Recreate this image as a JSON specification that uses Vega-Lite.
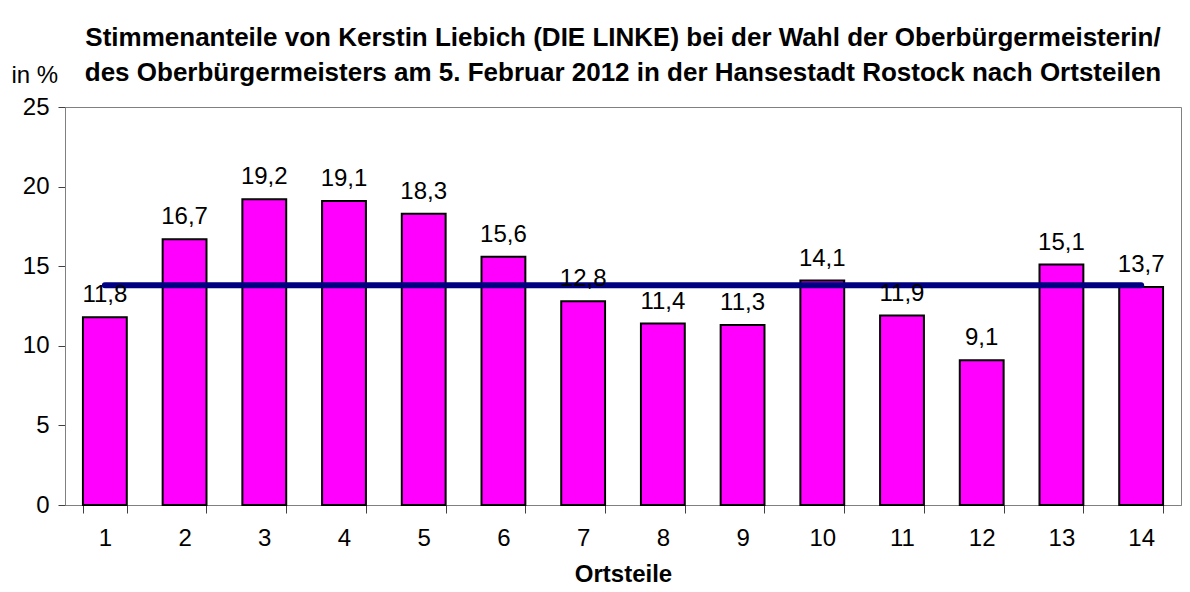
{
  "$schema": "https://vega.github.io/schema/vega-lite/v6.json",
  "width": 1116,
  "height": 398,
  "autosize": {"type": "none"},
  "padding": {"left": 65, "top": 107, "right": 9, "bottom": 87},
  "background": "white",
  "config": {
    "font": "Liberation Sans",
    "view": {"stroke": "#808080", "strokeWidth": 1},
    "locale": {"number": {"decimal": ",", "thousands": ".", "grouping": [3], "currency": ["", " €"]}},
    "axis": {"grid": false, "domainColor": "#808080", "tickColor": "#404040", "labelColor": "black", "titleColor": "black", "labelFont": "Liberation Sans", "titleFont": "Liberation Sans"}
  },
  "title": {
    "text": ["Stimmenanteile von Kerstin Liebich (DIE LINKE)  bei der Wahl der Oberbürgermeisterin/", "des Oberbürgermeisters am 5. Februar 2012 in der Hansestadt Rostock nach Ortsteilen"],
    "fontSize": 26,
    "fontWeight": "bold",
    "color": "black",
    "font": "Liberation Sans",
    "anchor": "middle",
    "frame": "group",
    "lineHeight": 35,
    "offset": -23
  },
  "data": {
    "values": [
      {"Ortsteil": "1", "Anteil": 11.8, "Durchschnitt": 13.8},
      {"Ortsteil": "2", "Anteil": 16.7, "Durchschnitt": 13.8},
      {"Ortsteil": "3", "Anteil": 19.2, "Durchschnitt": 13.8},
      {"Ortsteil": "4", "Anteil": 19.1, "Durchschnitt": 13.8},
      {"Ortsteil": "5", "Anteil": 18.3, "Durchschnitt": 13.8},
      {"Ortsteil": "6", "Anteil": 15.6, "Durchschnitt": 13.8},
      {"Ortsteil": "7", "Anteil": 12.8, "Durchschnitt": 13.8},
      {"Ortsteil": "8", "Anteil": 11.4, "Durchschnitt": 13.8},
      {"Ortsteil": "9", "Anteil": 11.3, "Durchschnitt": 13.8},
      {"Ortsteil": "10", "Anteil": 14.1, "Durchschnitt": 13.8},
      {"Ortsteil": "11", "Anteil": 11.9, "Durchschnitt": 13.8},
      {"Ortsteil": "12", "Anteil": 9.1, "Durchschnitt": 13.8},
      {"Ortsteil": "13", "Anteil": 15.1, "Durchschnitt": 13.8},
      {"Ortsteil": "14", "Anteil": 13.7, "Durchschnitt": 13.8}
    ]
  },
  "encoding": {
    "x": {
      "field": "Ortsteil",
      "type": "ordinal",
      "sort": null,
      "scale": {"paddingInner": 0.45, "paddingOuter": 0.225},
      "axis": {
        "title": "Ortsteile",
        "titleFontSize": 24,
        "titleFontWeight": "bold",
        "titlePadding": 12,
        "labelAngle": 0,
        "labelFontSize": 24,
        "labelPadding": 13,
        "tickBand": "extent",
        "tickSize": 8,
        "domainColor": "#808080"
      }
    }
  },
  "layer": [
    {
      "mark": {"type": "bar", "color": "#FF00FF", "stroke": "black", "strokeWidth": 2},
      "encoding": {
        "y": {
          "field": "Anteil",
          "type": "quantitative",
          "scale": {"domain": [0, 25], "nice": false},
          "axis": {
            "values": [0, 5, 10, 15, 20, 25],
            "title": "in %",
            "titleAngle": 0,
            "titleFontSize": 24,
            "titleFontWeight": "normal",
            "titleAlign": "left",
            "titleBaseline": "alphabetic",
            "titleX": -54,
            "titleY": -25,
            "labelFontSize": 24,
            "labelPadding": 9,
            "tickSize": 7
          }
        }
      }
    },
    {
      "mark": {"type": "line", "color": "#000080", "strokeWidth": 6, "strokeCap": "round"},
      "encoding": {
        "y": {"field": "Durchschnitt", "type": "quantitative"}
      }
    },
    {
      "mark": {"type": "text", "fontSize": 24, "baseline": "alphabetic", "dy": -15, "color": "black"},
      "encoding": {
        "y": {"field": "Anteil", "type": "quantitative"},
        "text": {"field": "Anteil", "type": "quantitative", "format": ".1f"}
      }
    }
  ]
}
